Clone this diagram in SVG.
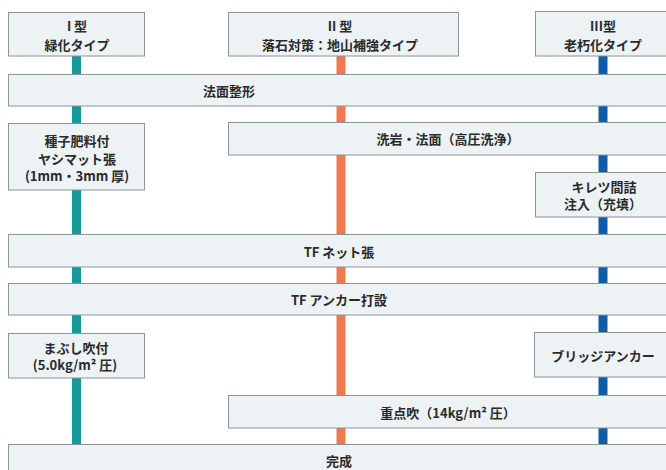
<svg xmlns="http://www.w3.org/2000/svg" width="666" height="470" viewBox="0 0 666 470">
<style>
.bx{fill:#edf2f5;stroke:#8d949a;stroke-width:1}
.t{font-family:"Noto Sans CJK JP","Noto Sans",sans-serif;font-weight:bold;font-size:13px;fill:#2a2a2a;text-anchor:middle;dominant-baseline:central}
.c1{stroke:#17999a;stroke-width:9}
.c2{stroke:#ee7950;stroke-width:9}
.c3{stroke:#0f5ca9;stroke-width:9}
</style>
<rect width="666" height="470" fill="#ffffff"/>
<g id="connectors">
<path class="c1" d="M76.5 56V74M76.5 106V123M76.5 190V234M76.5 267V283M76.5 315V333M76.5 378V445"/>
<path class="c2" d="M341 56V74M341 106V122M341 155V234M341 267V283M341 315V395M341 428V445"/>
<path class="c3" d="M603 56V74M603 106V122M603 155V172M603 217V234M603 267V283M603 315V332M603 377V395M603 428V445"/>
</g>
<g id="type1"><rect class="bx" x="8.5" y="12.5" width="136" height="43.5"/><text class="t" x="77" y="25.5">I 型</text><text class="t" x="77" y="44">緑化タイプ</text></g>
<g id="type2"><rect class="bx" x="228.5" y="12.5" width="230" height="43.5"/><text class="t" x="340" y="25.5">II 型</text><text class="t" x="340" y="44">落石対策：地山補強タイプ</text></g>
<g id="type3"><rect class="bx" x="535.5" y="11.5" width="140" height="44.5"/><text class="t" x="603" y="25.5">III型</text><text class="t" x="603" y="44">老朽化タイプ</text></g>
<g id="houmen-seikei"><rect class="bx" x="8.5" y="74.5" width="667" height="31.5"/><text class="t" x="229" y="90">法面整形</text></g>
<g id="seigan"><rect class="bx" x="228.5" y="122.5" width="447" height="32.5"/><text class="t" x="448" y="138">洗岩・法面（高圧洗浄）</text></g>
<g id="yashimat"><rect class="bx" x="8.5" y="123.5" width="136" height="66.5"/><text class="t" x="77" y="140.5">種子肥料付</text><text class="t" x="77" y="158">ヤシマット張</text><text class="t" x="77" y="175.5">(1mm・3mm 厚)</text></g>
<g id="kiretsu"><rect class="bx" x="535.5" y="172.5" width="140" height="44.5"/><text class="t" x="604" y="186">キレツ間詰</text><text class="t" x="603" y="203.5">注入（充填）</text></g>
<g id="tf-net"><rect class="bx" x="8.5" y="234.5" width="667" height="32.5"/><text class="t" x="339" y="251">TF ネット張</text></g>
<g id="tf-anchor"><rect class="bx" x="8.5" y="283.5" width="667" height="31.5"/><text class="t" x="339" y="299.5">TF アンカー打設</text></g>
<g id="mabushi"><rect class="bx" x="8.5" y="333.5" width="136" height="44.5"/><text class="t" x="76" y="347">まぶし吹付</text><text class="t" x="75" y="364.5">(5.0kg/m² 圧)</text></g>
<g id="bridge"><rect class="bx" x="534.5" y="332.5" width="141" height="44.5"/><text class="t" x="603" y="355">ブリッジアンカー</text></g>
<g id="jutenbuki"><rect class="bx" x="228.5" y="395.5" width="447" height="32.5"/><text class="t" x="448" y="412">重点吹（14kg/m² 圧）</text></g>
<g id="kansei"><rect class="bx" x="8.5" y="444.5" width="667" height="40"/><text class="t" x="339" y="460">完成</text></g>
</svg>
